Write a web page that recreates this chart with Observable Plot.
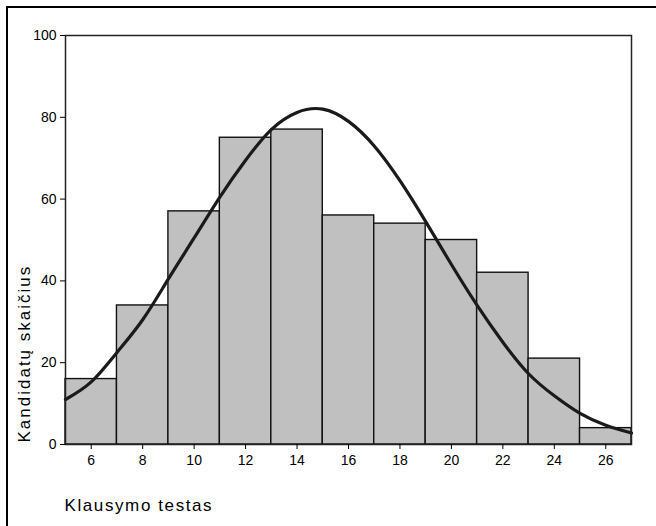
<!DOCTYPE html>
<html>
<head>
<meta charset="utf-8">
<script src="https://cdn.jsdelivr.net/npm/d3@7"></script>
<script src="https://cdn.jsdelivr.net/npm/@observablehq/plot@0.6"></script>
<style>
  html, body { margin: 0; padding: 0; background: #fff; }
  #wrap { position: relative; width: 656px; height: 526px; overflow: hidden; }
  #border { position: absolute; left: 6px; top: 6px; width: 700px; height: 600px; border: 2px solid #000; box-sizing: border-box; }
  #chart { position: absolute; left: 0; top: 0; }
</style>
</head>
<body>
<div id="wrap"><div id="border"></div><div id="chart"></div></div>
<script>
// Bin centers (Klausymo testas) and counts (Kandidatų skaičius)
const binCenters = [6, 8, 10, 12, 14, 16, 18, 20, 22, 24, 26];
const counts     = [16, 34, 57, 75, 77, 56, 54, 50, 42, 21, 4];
const binWidth = 2;

// Overlaid normal curve
const curveX = [5, 6, 7, 8, 9, 10, 11, 12, 13, 14, 15, 16, 17, 18, 19, 20, 21, 22, 23, 24, 25, 26, 27];
const curveY = [11, 15.3, 22.5, 30.5, 40.5, 50.5, 60.5, 69.5, 77, 81.2, 82, 79, 73, 64.5, 54.5, 44, 34, 25, 17.3, 11.9, 7.6, 4.7, 2.8];

const xTicks = [6, 8, 10, 12, 14, 16, 18, 20, 22, 24, 26];
const yTicks = [0, 20, 40, 60, 80, 100];

const bars = binCenters.map((c, i) => ({x1: c - binWidth / 2, x2: c + binWidth / 2, y: counts[i]}));
const curve = curveX.map((x, i) => ({x, y: curveY[i]}));

const chart = Plot.plot({
  width: 656,
  height: 526,
  marginLeft: 65,
  marginRight: 25,
  marginTop: 35,
  marginBottom: 82,
  style: {fontFamily: "'Liberation Sans', Arial, sans-serif", fontSize: "14px", color: "#000", background: "transparent"},
  x: {domain: [5, 27], label: null},
  y: {domain: [0, 100], label: null},
  marks: [
    Plot.rectY(bars, {x1: "x1", x2: "x2", y: "y", fill: "#c0c0c0", stroke: "#111", strokeWidth: 1.4, inset: 0}),
    Plot.line(curve, {x: "x", y: "y", curve: "natural", stroke: "#1a1a1a", strokeWidth: 3.2}),
    Plot.frame({stroke: "#222", strokeWidth: 1.5}),
    Plot.axisX({ticks: xTicks, tickSize: 5, tickFormat: () => "", label: null}),
    Plot.axisY({ticks: yTicks, tickSize: 5, tickFormat: () => "", label: null}),
    // tick labels, placed through the x and y scales
    Plot.text(xTicks, {x: d => d, frameAnchor: "bottom", dy: 16, lineAnchor: "middle", fontSize: 14, text: d => String(d)}),
    Plot.text(yTicks, {y: d => d, frameAnchor: "left", dx: -9, textAnchor: "end", lineAnchor: "middle", fontSize: 14, text: d => String(d)}),
    Plot.text(["Kandidatų skaičius"], {frameAnchor: "bottom-left", dx: -41, dy: -2, rotate: -90, textAnchor: "start", lineAnchor: "middle", fontSize: 17, text: d => d}),
    Plot.text(["Klausymo testas"], {frameAnchor: "bottom-left", dx: -1, dy: 61, textAnchor: "start", lineAnchor: "middle", fontSize: 17, text: d => d})
  ]
});
// title letter spacing, as in the reference
chart.querySelectorAll("text").forEach(t => {
  if (t.textContent === "Kandidatų skaičius") t.setAttribute("letter-spacing", "2");
  if (t.textContent === "Klausymo testas") t.setAttribute("letter-spacing", "1.6");
});
document.getElementById("chart").appendChild(chart);
</script>
</body>
</html>
